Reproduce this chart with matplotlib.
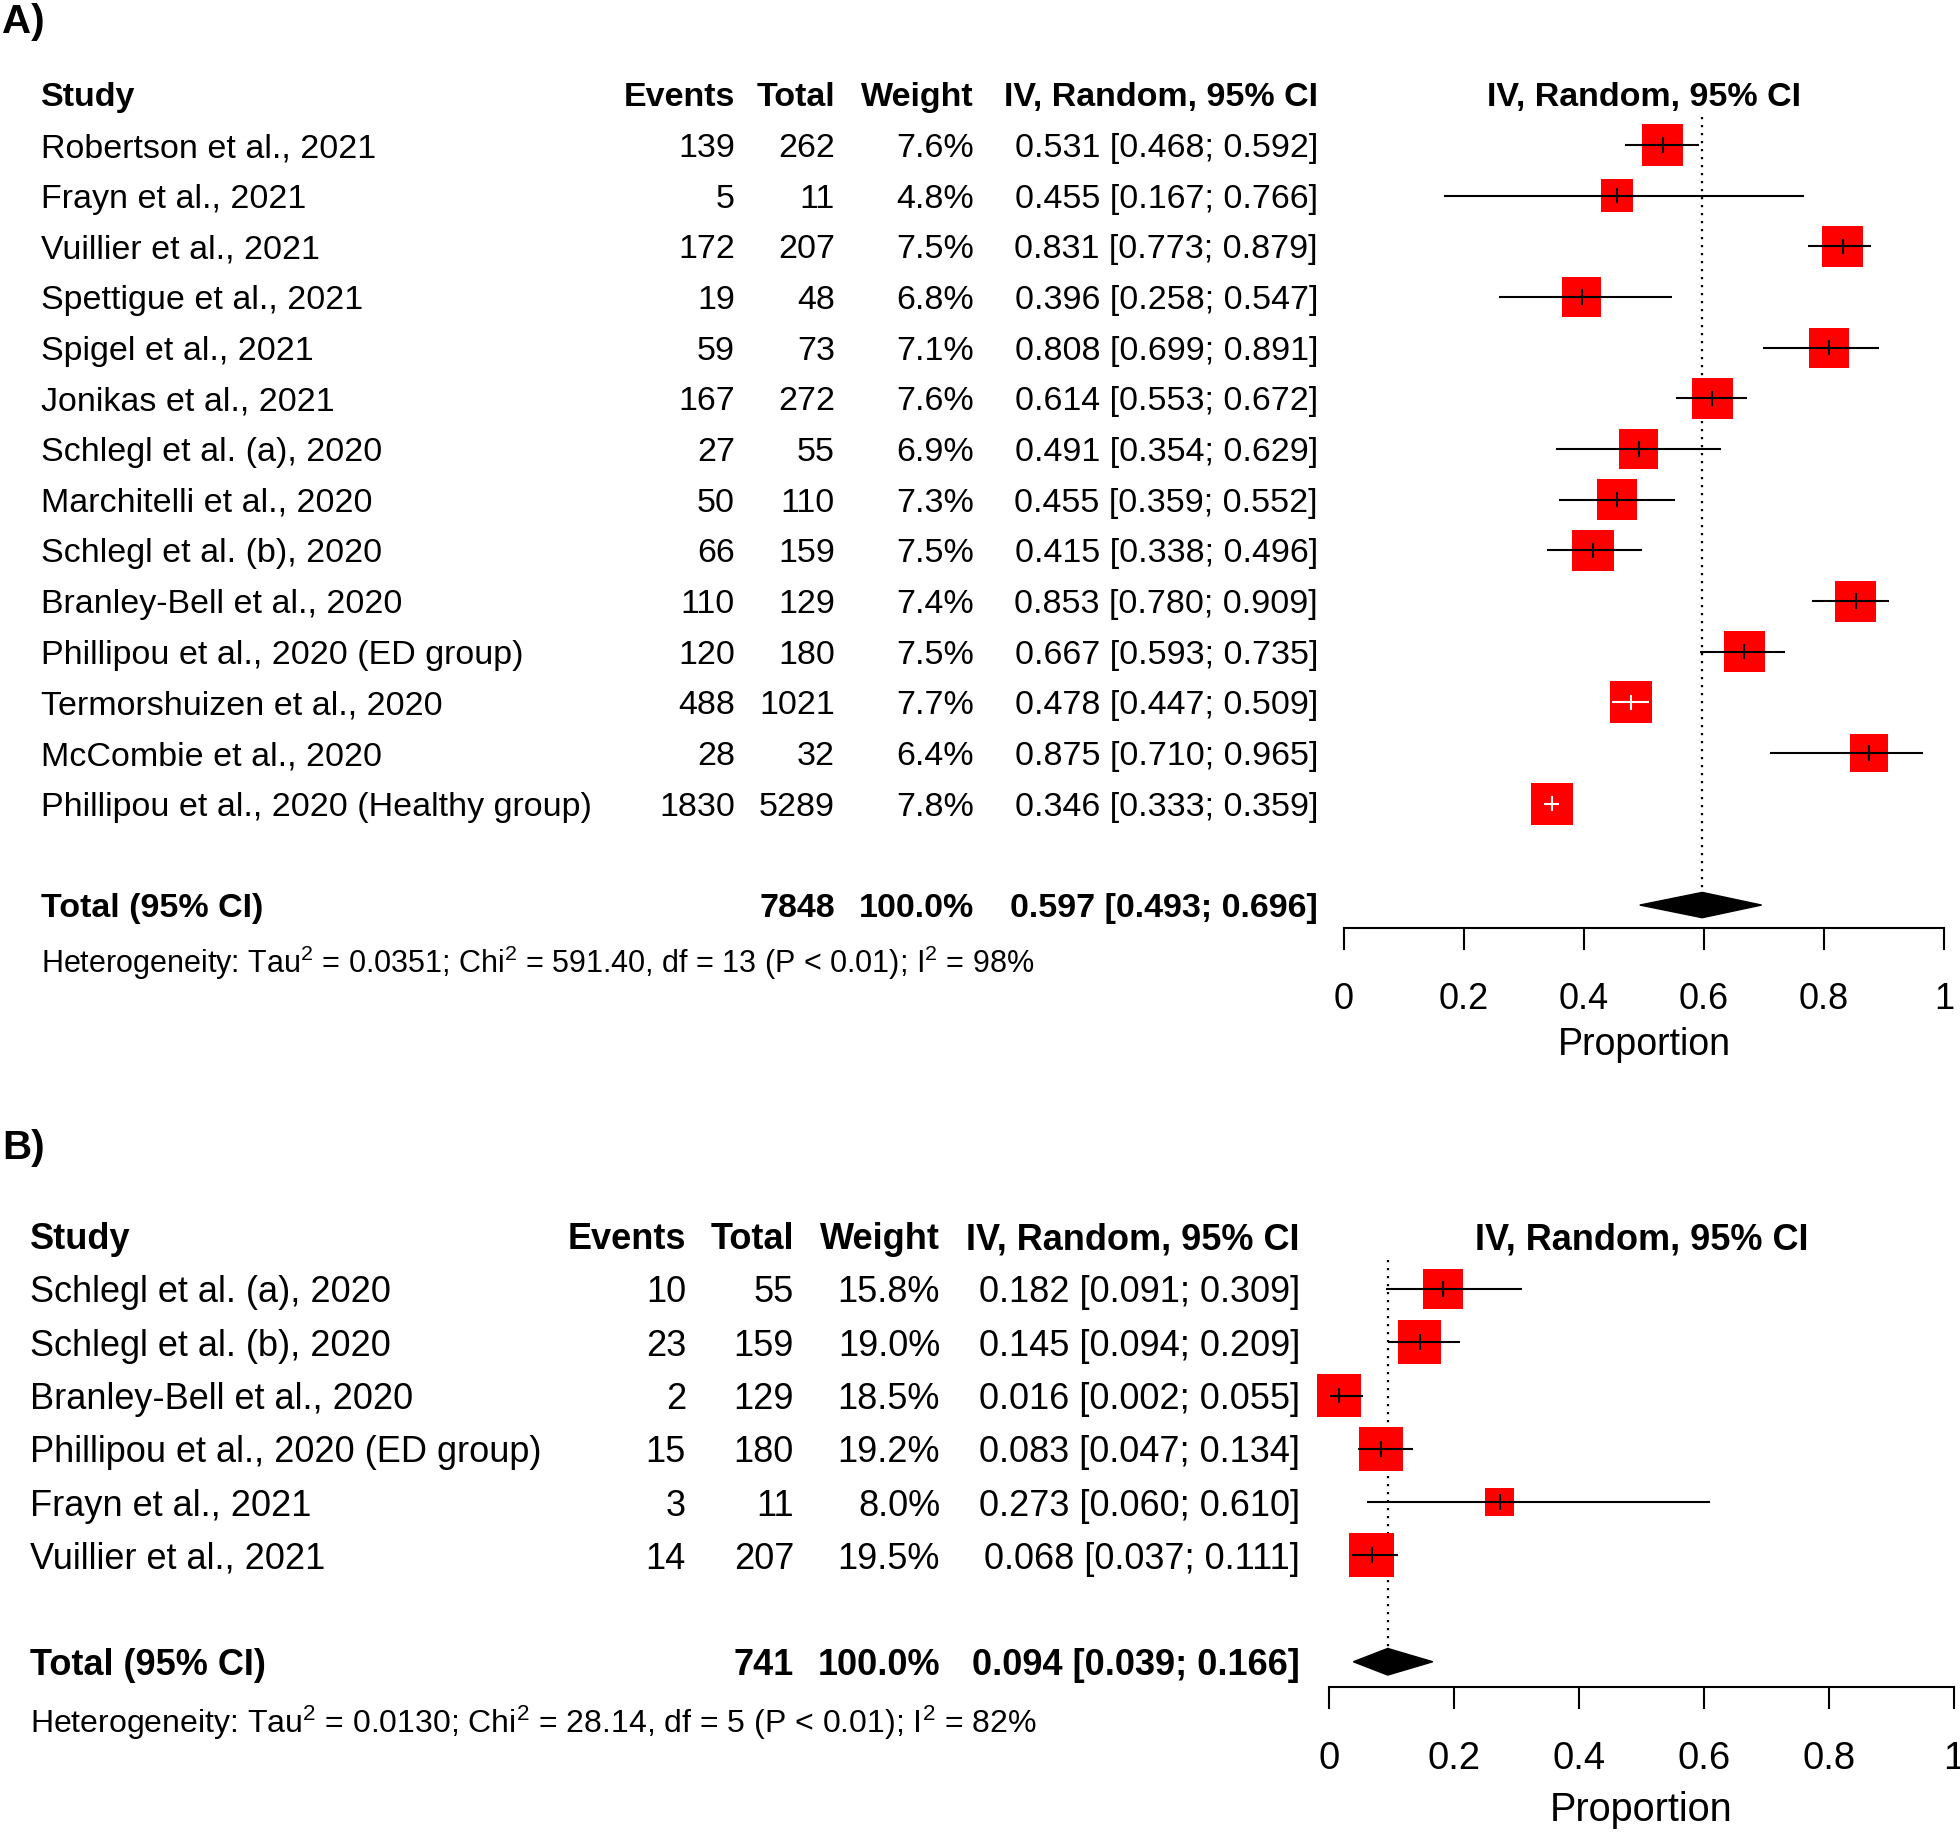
import numpy as np
import matplotlib.pyplot as plt
from matplotlib import transforms
from matplotlib.patches import Rectangle, Polygon

plt.rcParams['font.family'] = ['Liberation Sans', 'DejaVu Sans']
plt.rcParams['mathtext.fontset'] = 'custom'
plt.rcParams['mathtext.rm'] = 'Liberation Sans'
plt.rcParams['mathtext.it'] = 'Liberation Sans:italic'
plt.rcParams['mathtext.bf'] = 'Liberation Sans:bold'

# ---------------- dados painel A ----------------
studies_a = ["Robertson et al., 2021", "Frayn et al., 2021", "Vuillier et al., 2021",
             "Spettigue et al., 2021", "Spigel et al., 2021", "Jonikas et al., 2021",
             "Schlegl et al. (a), 2020", "Marchitelli et al., 2020", "Schlegl et al. (b), 2020",
             "Branley-Bell et al., 2020", "Phillipou et al., 2020 (ED group)",
             "Termorshuizen et al., 2020", "McCombie et al., 2020",
             "Phillipou et al., 2020 (Healthy group)"]
events_a = [139, 5, 172, 19, 59, 167, 27, 50, 66, 110, 120, 488, 28, 1830]
totals_a = [262, 11, 207, 48, 73, 272, 55, 110, 159, 129, 180, 1021, 32, 5289]
weights_a = [7.6, 4.8, 7.5, 6.8, 7.1, 7.6, 6.9, 7.3, 7.5, 7.4, 7.5, 7.7, 6.4, 7.8]
prop_a = [0.531, 0.455, 0.831, 0.396, 0.808, 0.614, 0.491, 0.455, 0.415, 0.853, 0.667, 0.478, 0.875, 0.346]
lower_a = [0.468, 0.167, 0.773, 0.258, 0.699, 0.553, 0.354, 0.359, 0.338, 0.780, 0.593, 0.447, 0.710, 0.333]
upper_a = [0.592, 0.766, 0.879, 0.547, 0.891, 0.672, 0.629, 0.552, 0.496, 0.909, 0.735, 0.509, 0.965, 0.359]
total_n_a = 7848
pooled_a = [0.597, 0.493, 0.696]
het_a = "Heterogeneity: Tau$^2$ = 0.0351; Chi$^2$ = 591.40, df = 13 (P < 0.01); I$^2$ = 98%"

# ---------------- dados painel B ----------------
studies_b = ["Schlegl et al. (a), 2020", "Schlegl et al. (b), 2020", "Branley-Bell et al., 2020",
             "Phillipou et al., 2020 (ED group)", "Frayn et al., 2021", "Vuillier et al., 2021"]
events_b = [10, 23, 2, 15, 3, 14]
totals_b = [55, 159, 129, 180, 11, 207]
weights_b = [15.8, 19.0, 18.5, 19.2, 8.0, 19.5]
prop_b = [0.182, 0.145, 0.016, 0.083, 0.273, 0.068]
lower_b = [0.091, 0.094, 0.002, 0.047, 0.060, 0.037]
upper_b = [0.309, 0.209, 0.055, 0.134, 0.610, 0.111]
total_n_b = 741
pooled_b = [0.094, 0.039, 0.166]
het_b = "Heterogeneity: Tau$^2$ = 0.0130; Chi$^2$ = 28.14, df = 5 (P < 0.01); I$^2$ = 82%"

xticks = [0, 0.2, 0.4, 0.6, 0.8, 1]
xticklabels = ["0", "0.2", "0.4", "0.6", "0.8", "1"]

W, H = 1960, 1832
fig = plt.figure(figsize=(W / 100, H / 100), dpi=100)


def forest(studies, events, totals, weights, prop, lower, upper, total_n, pooled, het,
           row0, rowh, axis_px, x0, x1, cols, fs, fs_ax, fs_het, het_px, lab_pad):
    n = len(studies)
    y_top = -0.6
    y_bot = (axis_px - row0) / rowh + 1
    top_px = row0 + (y_top - 1) * rowh
    ax = fig.add_axes([x0 / W, 1 - axis_px / H, (x1 - x0) / W, (axis_px - top_px) / H])
    ax.set_xlim(0, 1)
    ax.set_ylim(y_bot, y_top)
    for s in ['top', 'left', 'right']:
        ax.spines[s].set_visible(False)
    ax.spines['bottom'].set_linewidth(1.5)
    ax.set_yticks([])
    ax.set_xticks(xticks)
    ax.set_xticklabels(xticklabels, fontsize=fs_ax)
    ax.tick_params(axis='x', direction='out', length=16, width=1.5, pad=23)
    ax.set_xlabel("Proportion", fontsize=fs_ax + 1, labelpad=lab_pad)
    ax.patch.set_visible(False)

    ys = np.arange(1, n + 1)
    y_tot = n + 2
    wmax = max(weights)
    xpx = x1 - x0
    for i in range(n):
        side = 0.83 * rowh * np.sqrt(weights[i] / wmax)
        sw, sh = side / xpx, side / rowh
        ax.add_patch(Rectangle((prop[i] - sw / 2, ys[i] - sh / 2), sw, sh,
                               facecolor='#ff0000', edgecolor='none', zorder=2, clip_on=False))
        inside = lower[i] > prop[i] - sw / 2 and upper[i] < prop[i] + sw / 2
        c = 'white' if inside else 'black'
        ax.plot([lower[i], upper[i]], [ys[i], ys[i]], color=c, lw=1.5, zorder=3,
                solid_capstyle='butt', clip_on=False)
        ax.plot([prop[i], prop[i]], [ys[i] - 0.13, ys[i] + 0.13], color=c, lw=1.5, zorder=3,
                clip_on=False)

    dh = 0.25
    ax.add_patch(Polygon([(pooled[1], y_tot), (pooled[0], y_tot - dh), (pooled[2], y_tot),
                          (pooled[0], y_tot + dh)], closed=True, facecolor='black',
                         edgecolor='black', lw=1, zorder=3))
    ax.plot([pooled[0], pooled[0]], [0.45, y_tot - dh], color='black', lw=1.6,
            ls=(0, (1, 2.6)), zorder=1)

    tr = transforms.blended_transform_factory(fig.transFigure, ax.transData)
    xs = [c / W for c in cols]
    va = 'center_baseline'
    # cabeçalho
    ax.text(xs[0], 0, "Study", transform=tr, fontsize=fs, fontweight='bold', ha='left', va=va)
    for x, t in zip(xs[1:], ["Events", "Total", "Weight", "IV, Random, 95% CI"]):
        ax.text(x, 0, t, transform=tr, fontsize=fs, fontweight='bold', ha='right', va=va)
    ax.text(0.5, 0, "IV, Random, 95% CI", fontsize=fs, fontweight='bold', ha='center', va=va)
    # linhas
    for i in range(n):
        ci = "{:.3f} [{:.3f}; {:.3f}]".format(prop[i], lower[i], upper[i])
        ax.text(xs[0], ys[i], studies[i], transform=tr, fontsize=fs, ha='left', va=va)
        vals = [str(events[i]), str(totals[i]), "{:.1f}%".format(weights[i]), ci]
        for x, t in zip(xs[1:], vals):
            ax.text(x, ys[i], t, transform=tr, fontsize=fs, ha='right', va=va)
    # total
    ci = "{:.3f} [{:.3f}; {:.3f}]".format(*pooled)
    ax.text(xs[0], y_tot, "Total (95% CI)", transform=tr, fontsize=fs, fontweight='bold',
            ha='left', va=va)
    for x, t in zip(xs[2:], [str(total_n), "100.0%", ci]):
        ax.text(x, y_tot, t, transform=tr, fontsize=fs, fontweight='bold', ha='right', va=va)
    y_het = (het_px - row0) / rowh + 1
    ax.text(xs[0], y_het, het, transform=tr, fontsize=fs_het, ha='left', va=va)
    return ax


forest(studies_a, events_a, totals_a, weights_a, prop_a, lower_a, upper_a, total_n_a,
       pooled_a, het_a, row0=145, rowh=50.67, axis_px=928, x0=1344, x1=1944,
       cols=[41, 735, 835, 974, 1318], fs=24.5, fs_ax=26, fs_het=22, het_px=958, lab_pad=7)

forest(studies_b, events_b, totals_b, weights_b, prop_b, lower_b, upper_b, total_n_b,
       pooled_b, het_b, row0=1289, rowh=53.25, axis_px=1687, x0=1329, x1=1954,
       cols=[30, 686, 794, 940, 1300], fs=26, fs_ax=27.5, fs_het=23, het_px=1718, lab_pad=10)

fig.text(2 / W, 1 - 22 / H, "A)", fontsize=29, fontweight='bold', ha='left', va='center')
fig.text(2 / W, 1 - 1148 / H, "B)", fontsize=29, fontweight='bold', ha='left', va='center')

fig.savefig("out.png", dpi=100)
